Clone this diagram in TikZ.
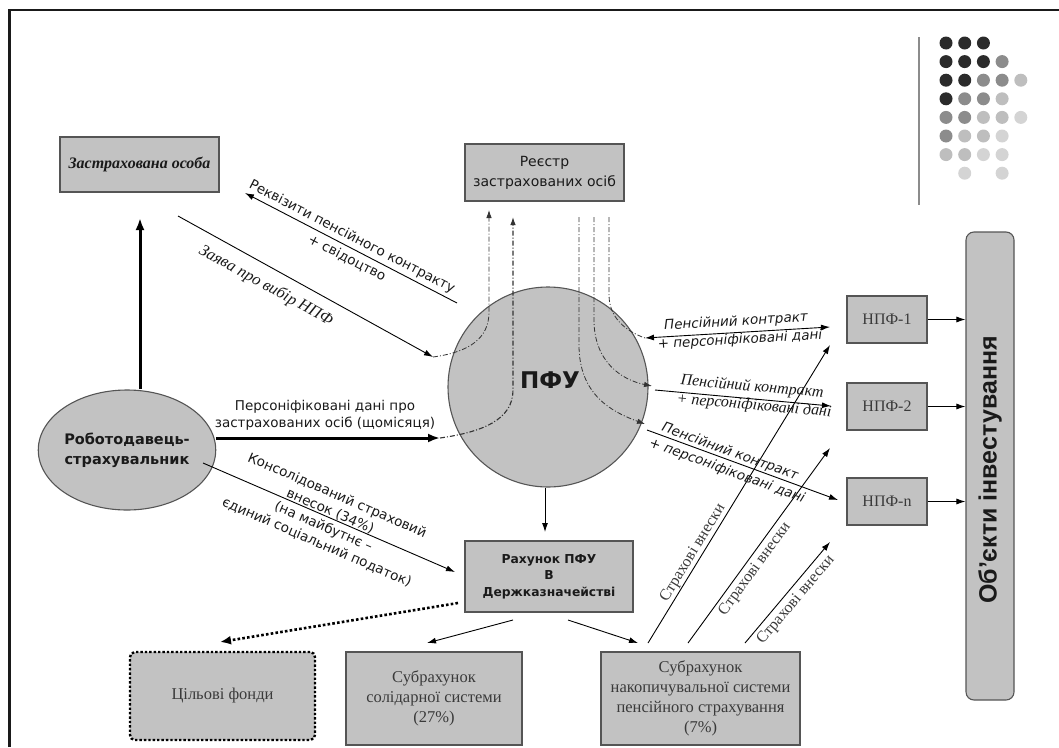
\documentclass[tikz,border=0pt]{standalone}
\usepackage{fontspec}
\setmainfont{Liberation Serif}
\newfontfamily\dvs{DejaVu Sans}
\newfontfamily\lsb{Liberation Sans}
\usetikzlibrary{arrows.meta,shapes.geometric}
\definecolor{boxgray}{HTML}{C2C2C2}
\definecolor{edgegray}{HTML}{555555}
\definecolor{txt}{HTML}{1A1A1A}
\definecolor{sertxt}{HTML}{3A3A3A}
\definecolor{ddgray}{HTML}{333333}
\definecolor{dotD}{HTML}{2B2B2B}
\definecolor{dotM}{HTML}{8C8C8C}
\definecolor{dotL}{HTML}{BEBEBE}
\definecolor{dotX}{HTML}{D4D4D4}
\definecolor{framec}{HTML}{1A1A1A}
\begin{document}
\begin{tikzpicture}[x=1pt,y=-1pt,
  box/.style={draw=edgegray,line width=1.1pt,fill=boxgray,inner sep=0pt,align=center,text=txt},
  sertext/.style={font=\fontsize{16.5}{20}\selectfont,text=sertxt},
  conn/.style={draw=black,line width=0.9pt,-{Latex[length=9pt,width=6pt]}},
  thickconn/.style={draw=black,line width=3pt,-{Latex[length=12pt,width=9pt]}},
  dotconn/.style={draw=black,line width=2.6pt,dash pattern=on 2.6pt off 2.2pt,-{Latex[length=11pt,width=9pt]}},
  dd/.style={draw=ddgray,line width=0.8pt,dash pattern=on 5pt off 2pt on 1pt off 2pt},
  ddtip/.style={-{Latex[length=8pt,width=5.5pt]}},
  lbl/.style={inner sep=0pt,text=txt,align=center},
  sanslbl/.style={lbl,font=\dvs\fontsize{13.5}{17}\selectfont},
  sansit/.style={lbl,font=\dvs\itshape\fontsize{13.5}{17}\selectfont},
  serit/.style={lbl,font=\itshape\fontsize{16.5}{20}\selectfont},
  serlbl/.style={lbl,font=\fontsize{16}{20}\selectfont,text=sertxt},
]
\useasboundingbox (0,0) rectangle (1059,747);

% frame
\draw[framec,line width=2.6pt,line join=miter] (9.3,747) -- (9.3,10) -- (1059,10);

% decoration: bar and dots
\draw[dotM,line width=2pt] (919,37) -- (919,205);
\foreach \c/\r/\col in {
  1/1/dotD,2/1/dotD,3/1/dotD,
  1/2/dotD,2/2/dotD,3/2/dotD,4/2/dotM,
  1/3/dotD,2/3/dotD,3/3/dotM,4/3/dotM,5/3/dotL,
  1/4/dotD,2/4/dotM,3/4/dotM,4/4/dotL,
  1/5/dotM,2/5/dotM,3/5/dotL,4/5/dotL,5/5/dotX,
  1/6/dotM,2/6/dotL,3/6/dotL,4/6/dotX,
  1/7/dotL,2/7/dotL,3/7/dotX,4/7/dotX,
  2/8/dotX,4/8/dotX}
  \fill[\col] ({946+18.7*(\c-1)},{43+18.6*(\r-1)}) circle (6.5);

% nodes
\node[box,minimum width=159pt,minimum height=55pt,font=\bfseries\itshape\fontsize{16}{19}\selectfont] (zo) at (139.5,164.5) {Застрахована особа};
\node[box,minimum width=159pt,minimum height=57pt,font=\dvs\fontsize{14}{20}\selectfont] (re) at (544.5,172.5) {Реєстр\\застрахованих осіб};
\node[box,circle,minimum size=200pt] (pfu) at (548,387) {};
\node[lbl,font=\dvs\bfseries\fontsize{23}{26}\selectfont] (pfut) at (550,380) {ПФУ};
\node[box,ellipse,minimum width=151pt,minimum height=120pt,font=\dvs\bfseries\fontsize{14.5}{20}\selectfont] (rob) at (127,450) {Роботодавець-\\страхувальник};
\node[box,minimum width=168pt,minimum height=71pt,font=\dvs\bfseries\fontsize{12.3}{16.5}\selectfont] (rah) at (549,576.5) {Рахунок ПФУ\\В\\Держказначействі};
\node[box,draw=black,line width=2.4pt,dash pattern=on 2.4pt off 2pt,rounded corners=5pt,minimum width=185pt,minimum height=88pt,sertext] (cf) at (222.5,696) {Цільові фонди};
\node[box,minimum width=176pt,minimum height=93pt,sertext] (sol) at (434,698.5) {Субрахунок\\солідарної системи\\(27\%)};
\node[box,minimum width=199pt,minimum height=93pt,sertext] (nak) at (700.5,698.5) {Субрахунок\\накопичувальної системи\\пенсійного страхування\\(7\%)};
\node[box,minimum width=80pt,minimum height=47pt,font=\fontsize{16}{19}\selectfont,text=sertxt] (n1) at (887,319.5) {НПФ-1};
\node[box,minimum width=80pt,minimum height=47pt,font=\fontsize{16}{19}\selectfont,text=sertxt] (n2) at (887,406.5) {НПФ-2};
\node[box,minimum width=80pt,minimum height=47pt,font=\fontsize{16}{19}\selectfont,text=sertxt] (n3) at (887,501.5) {НПФ-n};
\node[box,rounded corners=8pt,minimum width=48pt,minimum height=468pt] (obj) at (990,466) {};
\node[lbl,rotate=90,font=\lsb\bfseries\fontsize{25}{28}\selectfont] (objt) at (990,470) {Об’єкти інвестування};

% free ends
\coordinate (zoIn) at (140,218);
\coordinate (rkA) at (457,303);
\coordinate (rkB) at (245,193);
\coordinate (zvA) at (178,216);
\coordinate (zvB) at (433,357);
\coordinate (reA) at (489,210);
\coordinate (psB) at (440,438);
\coordinate (reB) at (513,217);
\coordinate (ksA) at (203,463);
\coordinate (ksB) at (455,572);
\coordinate (rhIn) at (545,532);
\coordinate (rs1) at (513,620);
\coordinate (rs2) at (427,643);
\coordinate (rn1) at (568,620);
\coordinate (rn2) at (638,643);
\coordinate (df1) at (458,603);
\coordinate (df2) at (220,642);
\coordinate (sv1a) at (648,643);
\coordinate (sv1b) at (830,345);
\coordinate (sv2a) at (688,643);
\coordinate (sv2b) at (830,448);
\coordinate (sv3a) at (745,643);
\coordinate (sv3b) at (830,542);
\coordinate (c1a) at (645,338);
\coordinate (c1b) at (830,327);
\coordinate (c2t) at (652,386);
\coordinate (c2a) at (655,390);
\coordinate (c2b) at (831,406);
\coordinate (c3t) at (645,424);
\coordinate (c3a) at (647,430);
\coordinate (c3b) at (838,500);
\coordinate (reC) at (579,217);
\coordinate (reD) at (594,217);
\coordinate (reE) at (609,217);

% connectors
\draw[thickconn] (zoIn |- rob.north) -- (zoIn);
\draw[conn] (rkA) -- (rkB);
\draw[conn] (zvA) -- (zvB);
\draw[dd,ddtip] (zvB) .. controls (470,352) and (489,338) .. (489,312) -- (reA);
\draw[thickconn] (rob.east |- psB) -- (psB);
\draw[dd,line width=1.1pt,ddtip] (psB) .. controls (482,432) and (513,420) .. (513,390) -- (reB);
\draw[conn] (ksA) -- (ksB);
\draw[conn] (pfu.south -| rhIn) -- (rhIn);
\draw[conn] (rs1) -- (rs2);
\draw[conn] (rn1) -- (rn2);
\draw[dotconn] (df1) -- (df2);
\draw[conn] (sv1a) -- (sv1b);
\draw[conn] (sv2a) -- (sv2b);
\draw[conn] (sv3a) -- (sv3b);
\draw[conn,{Latex[length=9pt,width=6pt]}-{Latex[length=9pt,width=6pt]}] (c1a) -- (c1b);
\draw[conn] (c2a) -- (c2b);
\draw[conn] (c3a) -- (c3b);
\draw[dd,ddtip] (reC) -- (579,345) .. controls (579,395) and (612,412) .. (c3t);
\draw[dd,ddtip] (reD) -- (594,320) .. controls (594,362) and (622,380) .. (c2t);
\draw[dd] (reE) -- (609,295) .. controls (609,317) and (625,331) .. (c1a);
\draw[conn] (n1.east) -- (n1.east -| obj.west);
\draw[conn] (n2.east) -- (n2.east -| obj.west);
\draw[conn] (n3.east) -- (n3.east -| obj.west);

% labels
\node[sanslbl,rotate=-27.4] at (352,237) {Реквізити пенсійного контракту};
\node[sanslbl,rotate=-27.4] at (347,258) {+ свідоцтво};
\node[serit,rotate=-28.9] at (266,286) {Заява про вибір НПФ};
\node[sanslbl] at (325,415) {Персоніфіковані дані про\\застрахованих осіб (щомісяця)};
\node[sanslbl,rotate=-23.4] at (327,519) {Консолідований страховий\\внесок (34\%)\\(на майбутнє –\\єдиний соціальний податок)};
\node[sansit,rotate=3.4] at (736,322) {Пенсійний контракт};
\node[sansit,rotate=3.4] at (740,340) {+ персоніфіковані дані};
\node[serit,font=\itshape\fontsize{16}{20}\selectfont,rotate=-5] at (752,387) {Пенсійний контракт};
\node[serit,font=\itshape\fontsize{16}{20}\selectfont,rotate=-5] at (754,406) {+ персоніфіковані дані};
\node[sansit,rotate=-20.1] at (730,452) {Пенсійний контракт};
\node[sansit,rotate=-20.1] at (727,471) {+ персоніфіковані дані};
\node[serlbl,rotate=58.6] at (693,553) {Страхові внески};
\node[serlbl,rotate=53.9] at (755,569) {Страхові внески};
\node[serlbl,rotate=49.9] at (796,600) {Страхові внески};
\end{tikzpicture}
\end{document}
